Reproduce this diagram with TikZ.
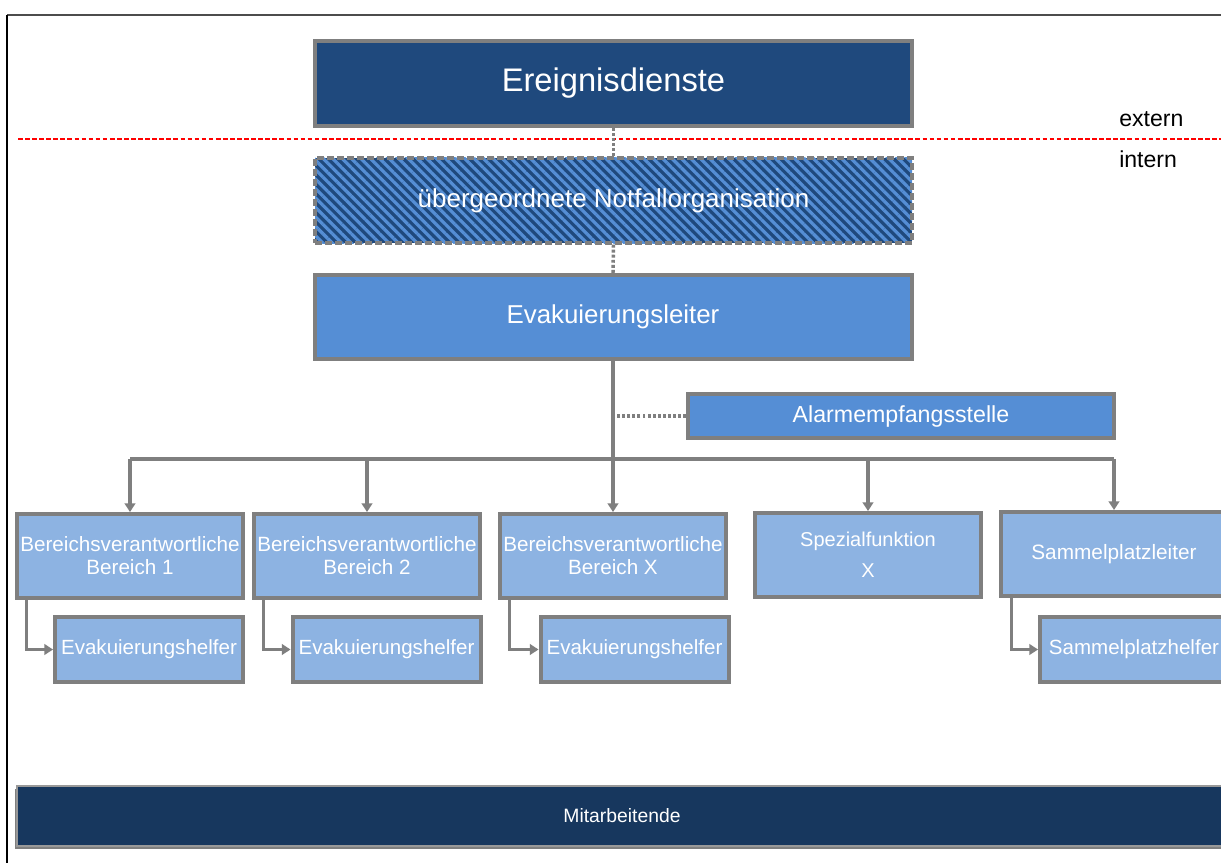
\documentclass[tikz,border=0pt]{standalone}
\usepackage{fontspec}
\setmainfont{Liberation Sans}
\usetikzlibrary{arrows.meta,patterns.meta}
\definecolor{dblue}{HTML}{1F497D}
\definecolor{mblue}{HTML}{558ED5}
\definecolor{lblue}{HTML}{8DB3E2}
\definecolor{navy}{HTML}{17375E}
\definecolor{bgray}{HTML}{7F7F7F}
\tikzset{
  box/.style={draw=bgray, line width=3pt, text=white, inner sep=0pt, align=center},
  conn/.style={draw=bgray, line width=2.4pt},
  arr/.style={conn, -{Triangle[width=8pt,length=6.5pt]}},
  dots/.style={draw=bgray, line width=2.6pt, dash pattern=on 2.2pt off 1.6pt},
}
\begin{document}
\begin{tikzpicture}[x=0.75pt,y=-0.75pt]
\clip (0,0) rectangle (1221,863);
\fill[white] (0,0) rectangle (1221,863);
% frame
\draw[line width=1.6pt, black!70] (7,15) -- (1225,15);
\draw[line width=1.6pt, black] (7,863) -- (7,15);
% top boxes
\node[box, fill=dblue, minimum width=447.75pt, minimum height=63.75pt,
  font=\fontsize{24.5}{29}\selectfont] (ereig) at (613.5,83.5) {Ereignisdienste};
\node[box, draw=bgray, dash pattern=on 5pt off 2.5pt, preaction={fill=dblue},
  pattern={Lines[angle=-45,distance=5pt,line width=2.4pt]}, pattern color=mblue,
  minimum width=447.75pt, minimum height=63.75pt] (uber) at (613.5,200.5) {};
\node[text=white, font=\fontsize{19.5}{23}\selectfont] (ubertxt) at (uber.center) {übergeordnete Notfallorganisation};
\node[box, fill=mblue, minimum width=447.75pt, minimum height=63pt,
  font=\fontsize{19.4}{23}\selectfont] (evak) at (613,317) {Evakuierungsleiter};
\node[box, fill=mblue, minimum width=319.5pt, minimum height=33pt,
  font=\fontsize{17.4}{21}\selectfont] (alarm) at (901,416) {Alarmempfangsstelle};
% extern / intern
\draw[red, line width=1.2pt, dash pattern=on 3.5pt off 1.8pt] (18,139) -- (1221,139);
\node[anchor=west, font=\fontsize{17.3}{20}\selectfont, inner sep=0pt] (ext) at (1119,119) {extern};
\node[anchor=west, font=\fontsize{17.3}{20}\selectfont, inner sep=0pt] (int) at (1119,159) {intern};
% second row
\node[box, fill=lblue, minimum width=169.5pt, minimum height=63pt,
  font=\fontsize{15.5}{17.3}\selectfont] (b1) at (130,556) {Bereichsverantwortliche\\Bereich 1};
\node[box, fill=lblue, minimum width=169.5pt, minimum height=63pt,
  font=\fontsize{15.5}{17.3}\selectfont] (b2) at (367,556) {Bereichsverantwortliche\\Bereich 2};
\node[box, fill=lblue, minimum width=169.5pt, minimum height=63pt,
  font=\fontsize{15.5}{17.3}\selectfont] (bx) at (613,556) {Bereichsverantwortliche\\Bereich X};
\node[box, fill=lblue, minimum width=169.5pt, minimum height=63pt,
  font=\fontsize{15}{23}\selectfont] (spez) at (868,555) {Spezialfunktion\\X};
\node[box, fill=lblue, minimum width=169.5pt, minimum height=63pt,
  font=\fontsize{15.6}{19}\selectfont] (samm) at (1114,554) {Sammelplatzleiter};
% helpers
\node[box, fill=lblue, minimum width=141pt, minimum height=48.75pt,
  font=\fontsize{15.4}{19}\selectfont] (e1) at (149,649.5) {Evakuierungshelfer};
\node[box, fill=lblue, minimum width=141pt, minimum height=48.75pt,
  font=\fontsize{15.4}{19}\selectfont] (e2) at (386.5,649.5) {Evakuierungshelfer};
\node[box, fill=lblue, minimum width=141pt, minimum height=48.75pt,
  font=\fontsize{15.4}{19}\selectfont] (e3) at (634.5,649.5) {Evakuierungshelfer};
\node[box, fill=lblue, minimum width=141pt, minimum height=48.75pt,
  font=\fontsize{15.4}{19}\selectfont] (sh) at (1134,649.5) {Sammelplatzhelfer};
% bottom
\fill[bgray] (15,789) rectangle (1227,849);
\node[box, fill=navy, draw=bgray!80, line width=2pt, minimum width=907.5pt, minimum height=45pt,
  font=\fontsize{14.5}{17}\selectfont] (mit) at (622,816) {Mitarbeitende};
% connectors
\draw[dots] (ereig.south) -- (uber.north);
\draw[dots] (uber.south) -- (evak.north);
\coordinate (bus) at (613,459);
\draw[conn] (evak.south) -- (bus);
\draw[dots] (alarm.west) -- (alarm.west -| evak.south);
\draw[conn] (b1.north |- bus) -- (samm.north |- bus);
\draw[arr] (b1.north |- bus) -- (b1.north);
\draw[arr] (b2.north |- bus) -- (b2.north);
\draw[arr] (bus) -- (bx.north);
\draw[arr] (spez.north |- bus) -- (spez.north);
\draw[arr] (samm.north |- bus) -- (samm.north);
\draw[arr] ([xshift=8.5pt]b1.south west) |- (e1.west);
\draw[arr] ([xshift=8.5pt]b2.south west) |- (e2.west);
\draw[arr] ([xshift=8.5pt]bx.south west) |- (e3.west);
\draw[arr] ([xshift=9.5pt]samm.south west) |- (sh.west);
\end{tikzpicture}
\end{document}
